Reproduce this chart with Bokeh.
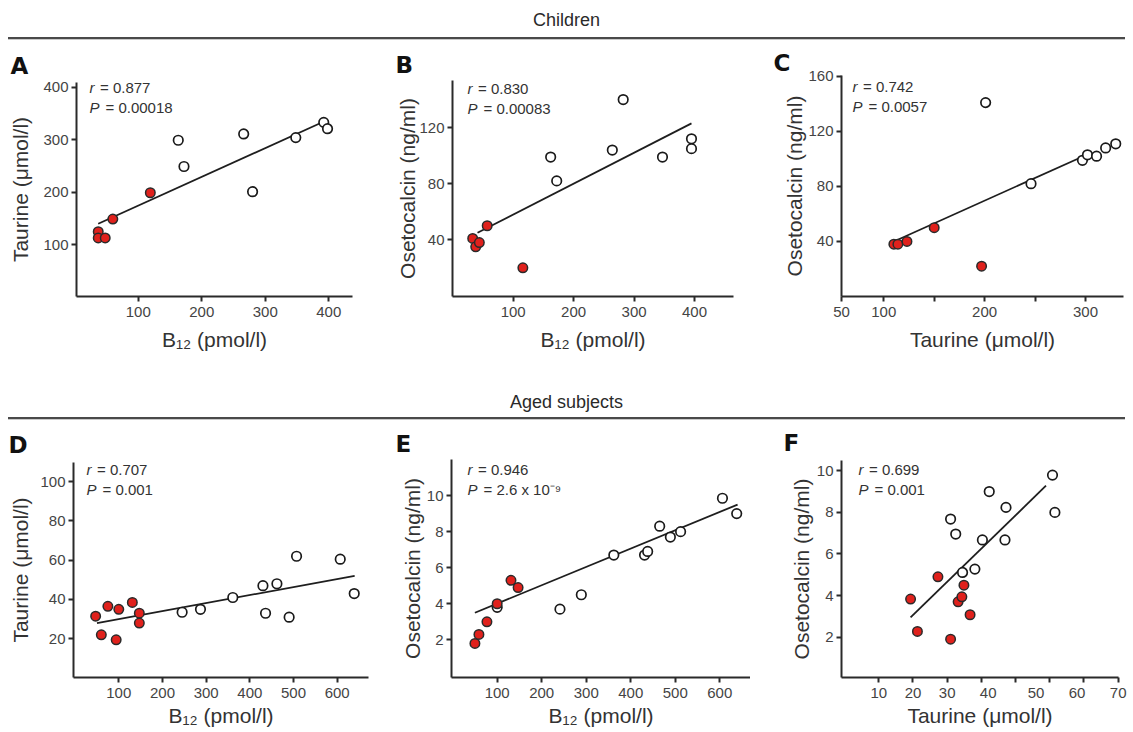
from bokeh.plotting import figure
from bokeh.layouts import column, row
from bokeh.models import Div, Label, FixedTicker
from bokeh.embed import file_html
from bokeh.resources import INLINE

# ------------------------------------------------------------------ data
# Panel A  (Children: B12 vs Taurine)
A_open_x = [163, 172, 266, 280, 348, 392, 398]
A_open_y = [299, 249, 311, 201, 304, 333, 321]
A_red_x = [37, 37, 48, 60, 119]
A_red_y = [125, 113, 113, 149, 199]
A_fit_x = [37, 395]
A_fit_y = [140, 336]
A_xticks = [100, 200, 300, 400]
A_yticks = [100, 200, 300, 400]

# Panel B  (Children: B12 vs Osteocalcin)
B_open_x = [162, 172, 264, 282, 347, 395, 395]
B_open_y = [99, 82, 104, 140, 99, 112, 105]
B_red_x = [33, 38, 44, 57, 116]
B_red_y = [41, 35, 38, 50, 20]
B_fit_x = [41, 395]
B_fit_y = [45, 123]
B_xticks = [100, 200, 300, 400]
B_yticks = [40, 80, 120]

# Panel C  (Children: Taurine vs Osteocalcin)
C_open_x = [201, 246, 297, 302, 311, 320, 330]
C_open_y = [141, 82, 99, 103, 102, 108, 111]
C_red_x = [110, 114, 123, 150, 197]
C_red_y = [38, 38, 40, 50, 22]
C_fit_x = [110, 298]
C_fit_y = [40, 102]
C_xticks = [100, 150, 200, 250, 300]
C_xtick_labels = ["100", "", "200", "", "300"]
C_first_xlabel = "50"
C_yticks = [40, 80, 120, 160]

# Panel D  (Aged: B12 vs Taurine)
D_open_x = [245, 287, 361, 430, 436, 462, 490, 507, 607, 639]
D_open_y = [33.5, 35, 41, 47, 33, 48, 31, 62, 60.5, 43]
D_red_x = [47, 60, 75, 94, 100, 131, 147, 147]
D_red_y = [31.5, 22, 36.5, 19.5, 35, 38.5, 33, 28]
D_fit_x = [50, 640]
D_fit_y = [28, 52]
D_xticks = [100, 200, 300, 400, 500, 600]
D_yticks = [20, 40, 60, 80, 100]

# Panel E  (Aged: B12 vs Osteocalcin)
E_open_x = [100, 241, 289, 362, 431, 438, 465, 489, 512, 606, 638]
E_open_y = [3.8, 3.7, 4.5, 6.7, 6.7, 6.9, 8.3, 7.7, 8.0, 9.85, 9.0]
E_red_x = [50, 59, 77, 100, 131, 147]
E_red_y = [1.8, 2.3, 3.0, 4.0, 5.3, 4.9]
E_fit_x = [50, 640]
E_fit_y = [3.5, 9.5]
E_xticks = [100, 200, 300, 400, 500, 600]
E_yticks = [2, 4, 6, 8, 10]

# Panel F  (Aged: Taurine vs Osteocalcin)
F_open_x = [31.0, 32.5, 42.3, 40.3, 47.2, 46.9, 60.8, 61.5, 34.5, 38.1]
F_open_y = [7.67, 6.95, 8.99, 6.67, 8.23, 6.67, 9.78, 7.99, 5.11, 5.27]
F_red_x = [19.3, 21.3, 27.3, 31.0, 33.2, 34.3, 34.9, 36.7]
F_red_y = [3.83, 2.28, 4.9, 1.91, 3.7, 3.94, 4.5, 3.08]
F_fit_x = [19.3, 58.9]
F_fit_y = [2.95, 9.27]
F_xticks = [10, 20, 30, 40, 50, 60, 70, 80]
F_xtick_labels = ["10", "20", "30", "40", "50", "60", "70"]
F_yticks = [2, 4, 6, 8, 10]

stats = {
    "A": ("0.877", "0.00018"),
    "B": ("0.830", "0.00083"),
    "C": ("0.742", "0.0057"),
    "D": ("0.707", "0.001"),
    "E": ("0.946", "2.6 x 10\u207b\u2079"),
    "F": ("0.699", "0.001"),
}

LBL_B12 = "B\u2081\u2082 (pmol/l)"
LBL_TAU = "Taurine (\u03bcmol/l)"
LBL_OST = "Osetocalcin (ng/ml)"

# ------------------------------------------------------------------ layout / style
FONT = "Liberation Sans"
LETTER_FONT = "DejaVu Sans"
RED = "#e0211c"
INK = "#2a2a2a"

# page-pixel boxes: fig (l, t, r, b), frame (l, t, r, b); letter = (left x, lift above frame)
layout = {
    "A": dict(fig=(0, 40, 370, 353), frame=(76, 82, 352, 297), xr=(2.8, 437.3), yr=(1.5, 408.9),
              letter=(10, 3), stat=(89, 88), ylab_sd=8, xlab_sd=8),
    "B": dict(fig=(370, 40, 750, 353), frame=(452, 80, 733, 297), xr=(-0.4, 464.5), yr=(-0.45, 153.6),
              letter=(395, 1), stat=(467, 89), ylab_sd=-3, xlab_sd=8),
    "C": dict(fig=(750, 40, 1133, 353), frame=(841, 75, 1123, 297), xr=(58.1, 337.7), yr=(-0.04, 160.7),
              letter=(773, -4), stat=(852, 87), ylab_sd=-1, xlab_sd=8),
    "D": dict(fig=(0, 421, 370, 732), frame=(73, 462, 368, 677), xr=(-3.7, 671.7), yr=(0.3, 109.7),
              letter=(8, 5), stat=(86, 469), ylab_sd=5, xlab_sd=3),
    "E": dict(fig=(370, 421, 750, 732), frame=(451, 459, 750, 677), xr=(-2.6, 669.0), yr=(-0.09, 12.0),
              letter=(395, 2), stat=(467, 469), ylab_sd=0, xlab_sd=3),
    "F": dict(fig=(750, 421, 1133, 732), frame=(841, 460, 1118, 677), xr=(-0.9, 80.1), yr=(0.07, 10.48),
              letter=(783, 5), stat=(858, 469), ylab_sd=1, xlab_sd=3),
}
F_xlabel_pos = [10, 20, 30, 42, 56, 68, 80]   # where the (misaligned) labels sit in the original


def style_axis(ax, lab_sd, tick_sd):
    ax.axis_line_width = 2
    ax.axis_line_color = INK
    ax.major_tick_line_width = 2
    ax.major_tick_line_color = INK
    ax.major_tick_in = 0
    ax.major_tick_out = 5
    ax.minor_tick_line_color = None
    ax.major_label_text_font = FONT
    ax.major_label_text_font_size = "15px"
    ax.major_label_text_color = "#444444"
    ax.major_label_standoff = tick_sd
    ax.axis_label_text_font = FONT
    ax.axis_label_text_font_size = "21px"
    ax.axis_label_text_font_style = "normal"
    ax.axis_label_text_color = "#333333"
    ax.axis_label_standoff = lab_sd


def make_panel(key, ox, oy, rx, ry, fx, fy, xticks, yticks, xlabel, ylabel):
    L = layout[key]
    gl, gt, gr, gb = L["fig"]
    fl, ft, fr, fb = L["frame"]
    p = figure(width=gr - gl, height=gb - gt, x_range=L["xr"], y_range=L["yr"],
               output_backend="svg", toolbar_location=None,
               min_border_left=fl - gl, min_border_right=gr - fr,
               min_border_top=ft - gt, min_border_bottom=gb - fb)
    p.frame_align = False
    p.outline_line_color = None
    p.grid.visible = False
    p.background_fill_color = "white"
    p.border_fill_color = "white"

    p.xaxis.axis_label = xlabel
    p.yaxis.axis_label = ylabel
    style_axis(p.xaxis[0], L["xlab_sd"], 5)
    style_axis(p.yaxis[0], L["ylab_sd"], 3)
    p.xaxis.ticker = FixedTicker(ticks=list(xticks))
    p.yaxis.ticker = FixedTicker(ticks=list(yticks))

    p.line(fx, fy, line_color="#1e1e1e", line_width=1.8)
    p.scatter(ox, oy, size=9.5, fill_color="white", line_color="#1a1a1a", line_width=1.7)
    p.scatter(rx, ry, size=9.5, fill_color=RED, line_color="#2a2a2a", line_width=1.5)

    # panel letter (as the figure title, shifted left of the frame)
    lx, lift = L["letter"]
    p.title.text = key
    p.title.text_font = LETTER_FONT
    p.title.text_font_size = "23px"
    p.title.text_font_style = "bold"
    p.title.text_color = "#111111"
    p.title.align = "left"
    p.title.vertical_align = "top"
    p.title.offset = lx - fl
    p.title.standoff = lift

    # r / P statistics
    sx, sy = L["stat"]
    rv, pv = stats[key]
    for i, (sym, val, off) in enumerate([("r", rv, 10.5), ("P", pv, 16)]):
        yy = fb - (sy + 20 * i)
        p.add_layout(Label(x=sx - fl, y=yy, x_units="screen", y_units="screen", text=sym,
                           text_font=FONT, text_font_size="15px", text_font_style="italic",
                           text_color="#333333", text_align="left", text_baseline="middle"))
        p.add_layout(Label(x=sx - fl + off, y=yy, x_units="screen", y_units="screen",
                           text="= " + val,
                           text_font=FONT, text_font_size="15px",
                           text_color="#333333", text_align="left", text_baseline="middle"))
    return p


pA = make_panel("A", A_open_x, A_open_y, A_red_x, A_red_y, A_fit_x, A_fit_y,
                A_xticks, A_yticks, LBL_B12, LBL_TAU)
pB = make_panel("B", B_open_x, B_open_y, B_red_x, B_red_y, B_fit_x, B_fit_y,
                B_xticks, B_yticks, LBL_B12, LBL_OST)
pC = make_panel("C", C_open_x, C_open_y, C_red_x, C_red_y, C_fit_x, C_fit_y,
                C_xticks, C_yticks, LBL_TAU, LBL_OST)
# C: first label "50" sits at the axis origin, 150 and 250 ticks unlabeled
c0 = layout["C"]["xr"][0] + 0.1
pC.xaxis.ticker = FixedTicker(ticks=[c0] + C_xticks)
ov = {c0: C_first_xlabel}
ov.update({t: s for t, s in zip(C_xticks, C_xtick_labels)})
pC.xaxis.major_label_overrides = ov

pD = make_panel("D", D_open_x, D_open_y, D_red_x, D_red_y, D_fit_x, D_fit_y,
                D_xticks, D_yticks, LBL_B12, LBL_TAU)
pE = make_panel("E", E_open_x, E_open_y, E_red_x, E_red_y, E_fit_x, E_fit_y,
                E_xticks, E_yticks, LBL_B12, LBL_OST)
pF = make_panel("F", F_open_x, F_open_y, F_red_x, F_red_y, F_fit_x, F_fit_y,
                F_xticks, F_yticks, LBL_TAU, LBL_OST)
# F: tick marks every 10, labels spread as in the original
pF.xaxis.ticker = FixedTicker(ticks=F_xlabel_pos, minor_ticks=F_xticks)
pF.xaxis.major_label_overrides = {t: s for t, s in zip(F_xlabel_pos, F_xtick_labels)}
pF.xaxis.major_tick_line_color = None
pF.xaxis.minor_tick_line_color = INK
pF.xaxis.minor_tick_line_width = 2
pF.xaxis.minor_tick_in = 0
pF.xaxis.minor_tick_out = 5


def header(text, height, text_top, line_top):
    html = (
        f'<div style="position:relative;width:1133px;height:{height}px;margin:0;padding:0;">'
        f'<div style="position:absolute;left:0;top:{text_top}px;width:1133px;text-align:center;'
        f"font-family:'Liberation Sans',Arial,sans-serif;font-size:18px;line-height:20px;color:#2a2a2a;\">{text}</div>"
        f'<div style="position:absolute;left:8px;top:{line_top}px;width:1117px;height:2px;background:#4a4a4a;"></div>'
        f'<div style="position:absolute;left:8px;top:{line_top + 2}px;width:1117px;height:1px;background:#c9c9c9;"></div>'
        '</div>'
    )
    return Div(text=html, width=1133, height=height, margin=0)


h1 = header("Children", 40, 10, 37)
h2 = header("Aged subjects", 68, 39, 64)

page = column(h1, row(pA, pB, pC), h2, row(pD, pE, pF))

open("out.html", "w").write(file_html(page, INLINE))
